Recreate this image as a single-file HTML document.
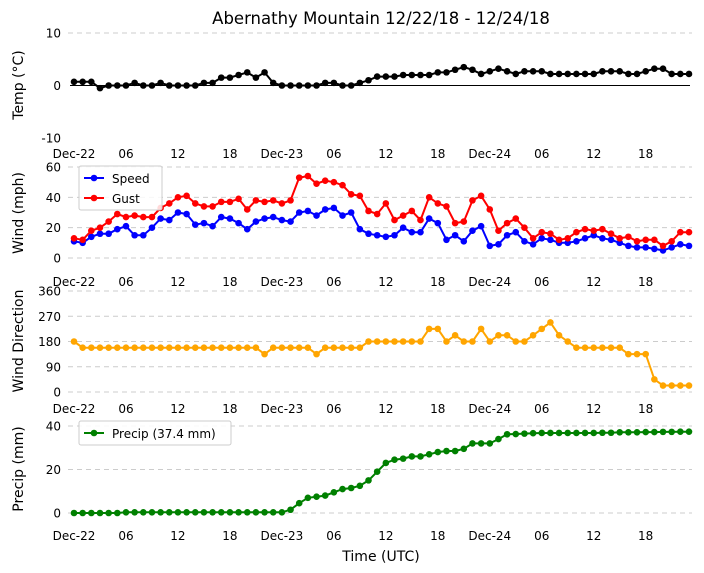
<!DOCTYPE html>
<html><head><meta charset="utf-8">
<style>
body{margin:0;background:#fff;}
svg{display:block;font-family:"DejaVu Sans","Liberation Sans",sans-serif;}
</style></head>
<body>
<svg id="chart" width="704" height="573" viewBox="0 0 704 573"></svg>
<script>
const hours = Array.from({length:72},(_,i)=>i);
const tickLabels = ["Dec-22","06","12","18","Dec-23","06","12","18","Dec-24","06","12","18"];
const tempValues = [0.7,0.7,0.7,-0.5,0,0,0,0.5,0,0,0.5,0,0,0,0,0.5,0.5,1.5,1.5,2,2.5,1.5,2.5,0.5,
 0,0,0,0,0,0.5,0.5,0,0,0.5,1,1.7,1.7,1.7,2,2,2,2,2.5,2.5,3,3.5,3,2.2,
 2.7,3.2,2.7,2.2,2.7,2.7,2.7,2.2,2.2,2.2,2.2,2.2,2.2,2.7,2.7,2.7,2.2,2.2,2.7,3.2,3.2,2.2,2.2,2.2];
const speedValues = [11,10,14,16,16,19,21,15,15,20,26,25,30,29,22,23,21,27,26,23,19,24,26,27,25,24,30,31,28,32,33,28,30,19,16,15,14,15,20,17,17,26,23,12,15,11,18,21,8,9,15,17,11,9,13,12,10,10,11,13,15,13,12,10,8,7,7,6,5,7,9,8];
const gustValues = [13,12,18,20,24,29,27,28,27,27,33,36,40,41,36,34,34,37,37,39,32,38,37,38,36,38,53,54,49,51,50,48,42,41,31,29,36,25,28,31,25,40,36,34,23,24,38,41,32,18,23,26,20,13,17,16,12,13,17,19,18,19,16,13,14,11,12,12,8,11,17,17];
const dirValues = [180,158,158,158,158,158,158,158,158,158,158,158,158,158,158,158,158,158,158,158,158,158,135,158,158,158,158,158,135,158,158,158,158,158,180,180,180,180,180,180,180,225,225,180,202,180,180,225,180,202,202,180,180,202,225,248,202,180,158,158,158,158,158,158,135,135,135,45,23,23,23,23];
const precipValues = [0,0,0,0,0,0,0.3,0.3,0.3,0.3,0.3,0.3,0.3,0.3,0.3,0.3,0.3,0.3,0.3,0.3,0.3,0.3,0.3,0.3,0.3,1.5,4.5,7,7.5,8,9.5,11,11.5,12.5,15,19,23,24.5,25,26,26,27,28,28.5,28.5,29.5,32,32,32,34,36.2,36.3,36.5,36.7,36.8,36.8,36.8,36.8,36.8,36.8,36.8,36.9,36.9,37.1,37.1,37.1,37.2,37.2,37.3,37.3,37.4,37.4];

const NS="http://www.w3.org/2000/svg";
const svg=document.getElementById('chart');
function mk(tag,attrs,parent){const e=document.createElementNS(NS,tag);for(const k in attrs)e.setAttribute(k,attrs[k]);(parent||svg).appendChild(e);return e;}
function xScale(h){return 74+h*(615/71);}
function makeY(v0,v1,p0,p1){return v=>p0+(v-v0)*(p1-p0)/(v1-v0);}

const panels=[
 {name:'temp',y:makeY(-10,10,138,33),ticks:[-10,0,10],grid:[10],label:'Temp (°C)',ly:85,tickY:154,zero:true},
 {name:'wind-speed',y:makeY(0,60,258,167),ticks:[0,20,40,60],grid:[0,20,40,60],label:'Wind (mph)',ly:213,tickY:282},
 {name:'wind-direction',y:makeY(0,360,392,291),ticks:[0,90,180,270,360],grid:[0,90,180,270,360],label:'Wind Direction',ly:341,tickY:409},
 {name:'precip',y:makeY(0,40,513,426),ticks:[0,20,40],grid:[0,20,40],label:'Precip (mm)',ly:469,tickY:536}
];

const title=mk('text',{x:381,y:24,'text-anchor':'middle','font-size':16.5,fill:'#000'});


title.textContent='Abernathy Mountain 12/22/18 - 12/24/18';

panels.forEach(p=>{
  const g=mk('g',{});
  
  
  p.grid.forEach(v=>{
    const l=mk('line',{x1:68,x2:692,y1:p.y(v),y2:p.y(v),stroke:'#ccc','stroke-width':1,'stroke-dasharray':'5,4'},g);
    
    
  });
  if(p.zero){
    const z=mk('line',{x1:70,x2:690,y1:p.y(0),y2:p.y(0),stroke:'#000','stroke-width':1},g);
    
    
  }
  p.ticks.forEach(v=>{
    const t=mk('text',{x:61,y:p.y(v)+4.5,'text-anchor':'end','font-size':12,fill:'#000'},g);
    
    
    t.textContent=v;
  });
  tickLabels.forEach((s,i)=>{
    const t=mk('text',{x:xScale(i*6),y:p.tickY+4,'text-anchor':'middle','font-size':12,fill:'#000'},g);
    
    
    t.textContent=s;
  });
  const yl=mk('text',{x:0,y:0,'text-anchor':'middle','font-size':14,fill:'#000',transform:`translate(23,${p.ly}) rotate(-90)`},g);
  
  
  yl.textContent=p.label;
});

function series(vals,yf,color,name){
  const g=mk('g',{});
  
  
  const pts=vals.map((v,i)=>xScale(hours[i]).toFixed(1)+','+yf(v).toFixed(1)).join(' ');
  const pl=mk('polyline',{points:pts,fill:'none',stroke:color,'stroke-width':2},g);
  
  
  vals.forEach((v,i)=>{
    const c=mk('circle',{cx:xScale(hours[i]),cy:yf(v),r:3.3,fill:color},g);
    
    
  });
}
series(tempValues,panels[0].y,'#000','temperature');
series(speedValues,panels[1].y,'#0000ff','wind-speed');
series(gustValues,panels[1].y,'#ff0000','wind-gust');
series(dirValues,panels[2].y,'#ffa500','wind-direction');
series(precipValues,panels[3].y,'#008000','precip');

function legend(x,y,w,items,name){
  const g=mk('g',{});
  
  
  mk('rect',{x:x,y:y,width:w,height:items.length*20+4,fill:'#fff','fill-opacity':0.85,stroke:'#ccc',rx:2},g);
  items.forEach((it,i)=>{
    const cy=y+12+i*20;
    const e=mk('g',{},g);
    
    
    mk('line',{x1:x+5,x2:x+25,y1:cy,y2:cy,stroke:it[1],'stroke-width':2},e);
    mk('circle',{cx:x+15,cy:cy,r:3.3,fill:it[1]},e);
    const t=mk('text',{x:x+33,y:cy+5,'font-size':12,fill:'#000'},e);
    t.textContent=it[0];
  });
}
legend(79,166,83,[['Speed','#0000ff'],['Gust','#ff0000']],'wind-legend');
legend(79,421,152,[['Precip (37.4 mm)','#008000']],'precip-legend');

const xt=mk('text',{x:381,y:561,'text-anchor':'middle','font-size':14,fill:'#000'});


xt.textContent='Time (UTC)';
</script>
</body></html>
